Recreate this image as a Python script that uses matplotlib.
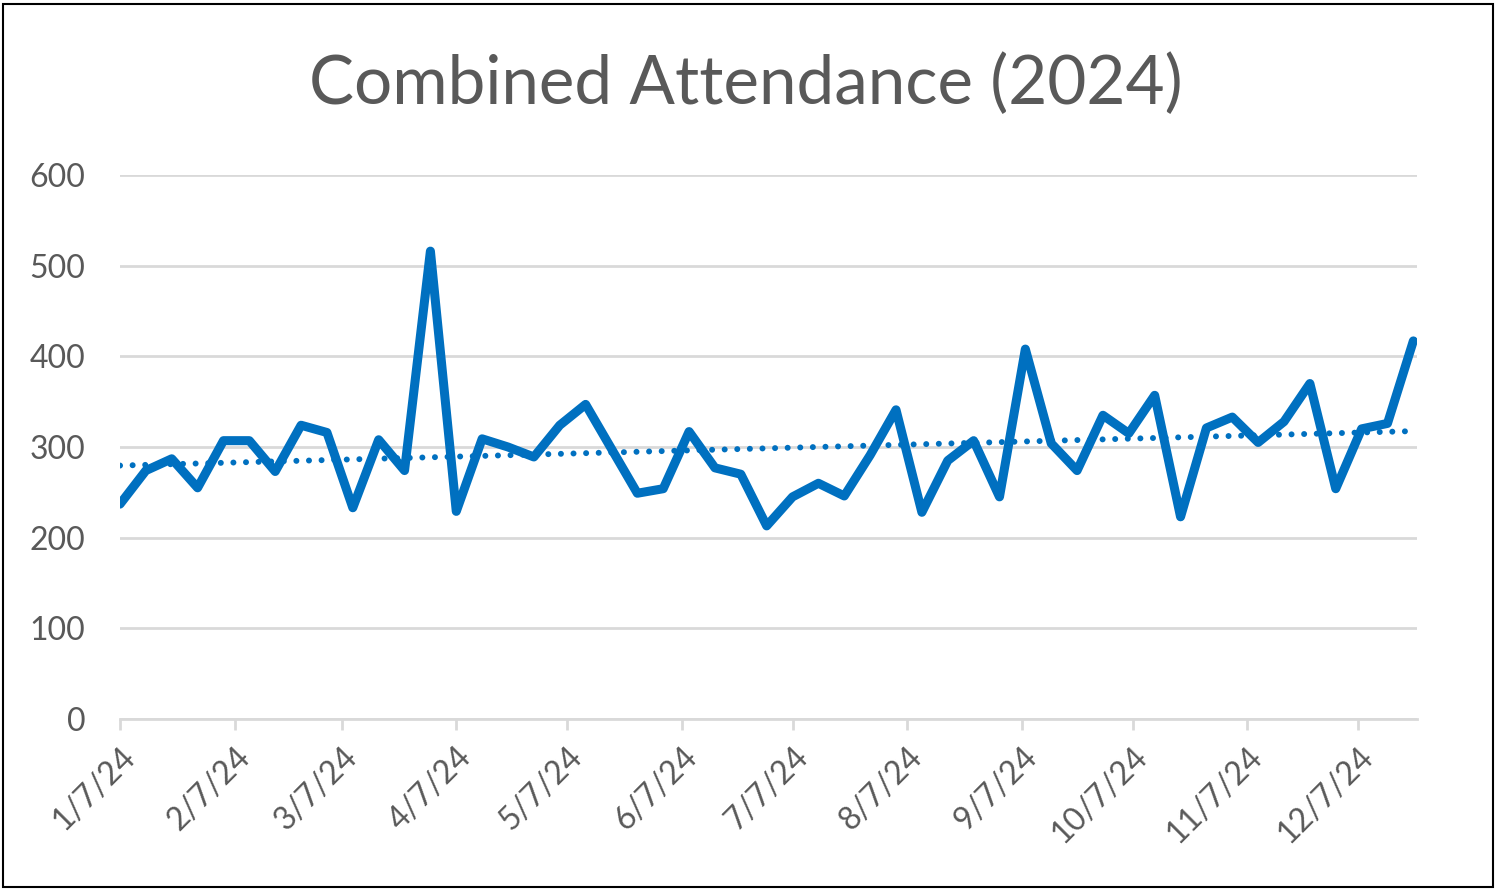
import numpy as np
import pandas as pd
import matplotlib.pyplot as plt
from matplotlib.patches import Rectangle
from matplotlib.transforms import ScaledTranslation

# weekly attendance
weeks = pd.date_range("2024-01-07", periods=51, freq="7D")
attendance = [237, 274, 287, 255, 307, 307, 273, 324, 316, 233,
              308, 274, 516, 229, 309, 300, 289, 324, 347, 298,
              249, 254, 317, 277, 270, 213, 245, 260, 246, 291,
              341, 228, 285, 307, 245, 408, 304, 274, 335, 315,
              357, 223, 321, 333, 305, 328, 370, 254, 320, 326, 417]
tick_dates = pd.date_range("2024-01-01", periods=12, freq="MS") + pd.Timedelta(days=6)
tick_labels = [f"{d.month}/{d.day}/24" for d in tick_dates]

plt.rcParams['font.family'] = ['Lato', 'DejaVu Sans']
gray = '#595959'
blue = '#0070C0'

fig = plt.figure(figsize=(15, 8.94), dpi=100)
ax = fig.add_axes([0.08, 0.1957, 0.8647, 0.6086])

ax.plot(weeks, attendance, color=blue, linewidth=6.5, solid_joinstyle='round',
        solid_capstyle='round', zorder=3)

# linear trendline
days = (weeks - weeks[0]).days.values
coef = np.polyfit(days, attendance, 1)
ax.plot(weeks, np.polyval(coef, days), color=blue, linewidth=4.3,
        linestyle=(0, (0.01, 2.1)), dash_capstyle='round', zorder=2)

ax.set_ylim(0, 600)
ax.set_yticks(range(0, 601, 100))
ax.set_xticks(tick_dates)
ax.set_xticklabels(tick_labels, rotation=45, ha='right', va='top',
                   rotation_mode='anchor')
ax.set_xlim(weeks[0], pd.Timestamp("2024-12-23"))

# nudge the slanted date labels a little left
shift = ScaledTranslation(-5 / 100, -3 / 100, fig.dpi_scale_trans)
for lbl in ax.get_xticklabels():
    lbl.set_transform(lbl.get_transform() + shift)

ax.grid(axis='y', color='#d9d9d9', linewidth=2)
ax.set_axisbelow(True)
for s in ['top', 'right', 'left']:
    ax.spines[s].set_visible(False)
ax.spines['bottom'].set_color('#d9d9d9')
ax.spines['bottom'].set_linewidth(2)
ax.tick_params(axis='y', length=0, pad=25, labelsize=23, labelcolor=gray)
ax.tick_params(axis='x', length=8, width=2, color='#d9d9d9', pad=8,
               labelsize=23, labelcolor=gray)

fig.text(0.497, 0.905, "Combined Attendance (2024)", ha='center', va='center',
         fontsize=48.5, color=gray)

fig.patches.append(Rectangle((0.002, 0.008), 0.993, 0.988, transform=fig.transFigure,
                             fill=False, edgecolor='black', linewidth=1.5))

fig.savefig("out.png", dpi=100)
